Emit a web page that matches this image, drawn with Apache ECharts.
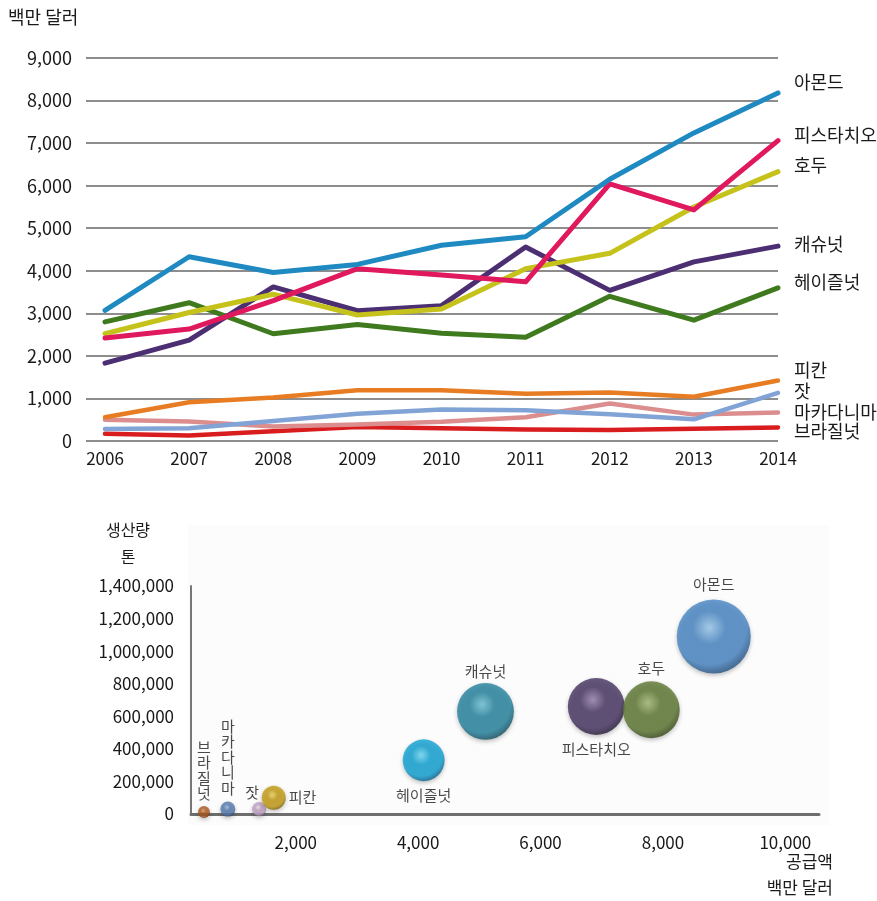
<!DOCTYPE html>
<html lang="ko">
<head>
<meta charset="utf-8">
<title>견과류 공급액과 생산량</title>
<script src="https://cdn.jsdelivr.net/npm/echarts@6/dist/echarts.min.js"></script>
<style>
  html, body { margin: 0; padding: 0; background: #ffffff; }
  #chart { width: 877px; height: 901px; }
</style>
</head>
<body>
<div id="chart"></div>
<script>
// ---- 연도별 공급액 (백만 달러) ----
const years = [2006, 2007, 2008, 2009, 2010, 2011, 2012, 2013, 2014];
const almond     = [3070, 4330, 3960, 4150, 4600, 4800, 6150, 7240, 8180];
const pistachio  = [2420, 2630, 3300, 4050, 3900, 3740, 6040, 5430, 7060];
const walnut     = [2520, 3020, 3450, 2960, 3100, 4050, 4410, 5500, 6330];
const cashew     = [1830, 2370, 3620, 3060, 3180, 4560, 3540, 4210, 4580];
const hazelnut   = [2800, 3250, 2520, 2740, 2530, 2440, 3400, 2840, 3600];
const pecan      = [560, 910, 1020, 1190, 1190, 1110, 1140, 1040, 1420];
const pineNut    = [280, 300, 470, 640, 740, 720, 630, 510, 1130];
const macadamia  = [500, 460, 340, 390, 450, 560, 880, 620, 670];
const brazilNut  = [170, 130, 230, 330, 300, 270, 260, 290, 320];
const lineNames  = ['아몬드', '피스타치오', '호두', '캐슈넛', '헤이즐넛', '피칸', '잣', '마카다니마', '브라질넛'];
const lineValues = [almond, pistachio, walnut, cashew, hazelnut, pecan, pineNut, macadamia, brazilNut];

// ---- 품목별 공급액(백만 달러) · 생산량(톤) · 버블 상대 크기 ----
const nutNames    = ['브라질넛', '마카다니마', '잣', '피칸', '헤이즐넛', '캐슈넛', '피스타치오', '호두', '아몬드'];
const supplyValue = [500, 890, 1400, 1640, 4090, 5100, 6910, 7810, 8830];
const outputTons  = [12000, 30000, 30000, 100000, 330000, 630000, 660000, 640000, 1090000];
const bubbleScale = [2.6, 4.1, 3.6, 10.5, 32, 59, 59, 59, 100];

// 꺾은선 색상과 끝 라벨 위치
const lineColors = ['#1f8ac2', '#e0195f', '#c6c21c', '#4c2f72', '#3f7a1f', '#e77c22', '#82a3d5', '#dc8e8e', '#d91d1f'];
const lineWidths = [5, 5, 5, 5, 5, 4.5, 4.5, 4.5, 4.5];
const endLabelDy = [-11, -5, -6, -2, -6, -10, -2, 0, 4];

// 구슬 색상 (밝은 부분, 기본, 어두운 테두리)
const ballColors = {
  '브라질넛':   ['#e49a5c', '#a9571d', '#5e2e0c'],
  '마카다니마': ['#9cb9e0', '#5177ad', '#2c466e'],
  '잣':         ['#efe2f0', '#bf9fc3', '#7f6585'],
  '피칸':       ['#f2d75e', '#c49a12', '#7a5e08'],
  '헤이즐넛':   ['#6fdcf6', '#0fa3d6', '#085f87'],
  '캐슈넛':     ['#6fc3d8', '#24839f', '#114c5e'],
  '피스타치오': ['#9782ad', '#463362', '#231833'],
  '호두':       ['#a3bb72', '#5d7731', '#324415'],
  '아몬드':     ['#9ccbf0', '#4786c6', '#22507f']
};

// 버블 라벨 배치
const ballLabel = {
  '브라질넛':   { position: 'top', distance: 5, vertical: true },
  '마카다니마': { position: 'top', distance: 6, vertical: true },
  '잣':         { position: 'top', distance: 1, offset: [-7, 0] },
  '피칸':       { position: 'right', distance: 3 },
  '헤이즐넛':   { position: 'bottom', distance: 5 },
  '캐슈넛':     { position: 'top', distance: 3 },
  '피스타치오': { position: 'bottom', distance: 5 },
  '호두':       { position: 'top', distance: 4 },
  '아몬드':     { position: 'top', distance: 6 }
};

const FONT = '"Noto Sans CJK KR", "Noto Sans", sans-serif';
const fmt = v => Number(v).toLocaleString('en-US');

const lineSeries = lineNames.map((name, i) => ({
  name: name,
  type: 'line',
  xAxisIndex: 0,
  yAxisIndex: 0,
  data: years.map((y, k) => [y, lineValues[i][k]]),
  showSymbol: false,
  symbol: 'none',
  z: 20 - i,
  lineStyle: { color: lineColors[i], width: lineWidths[i], cap: 'round', join: 'round' },
  itemStyle: { color: lineColors[i] },
  endLabel: {
    show: true,
    formatter: '{a}',
    distance: 16,
    offset: [0, endLabelDy[i]],
    color: '#1a1a1a',
    fontSize: 18,
    fontFamily: FONT
  },
  emphasis: { disabled: true }
}));

const bubbleData = nutNames.map((name, i) => {
  const c = ballColors[name];
  const lab = ballLabel[name];
  return {
    name: name,
    value: [supplyValue[i], outputTons[i], bubbleScale[i]],
    itemStyle: {
      color: new echarts.graphic.RadialGradient(0.44, 0.38, 0.64, [
        { offset: 0, color: c[0] },
        { offset: 0.35, color: c[1] },
        { offset: 0.78, color: c[1] },
        { offset: 1, color: c[2] }
      ]),
      shadowBlur: 4,
      shadowOffsetY: 2,
      shadowColor: 'rgba(0,0,0,0.3)'
    },
    label: {
      show: true,
      position: lab.position,
      distance: lab.distance,
      offset: lab.offset || [0, 0],
      formatter: lab.vertical ? name.split('').join('\n') : name,
      lineHeight: lab.vertical ? 15.5 : 18,
      color: '#1a1a1a',
      fontSize: 15,
      fontFamily: FONT
    }
  };
});

const chart = echarts.init(document.getElementById('chart'), null, { renderer: 'canvas' });

chart.setOption({
  animation: false,
  backgroundColor: '#ffffff',
  textStyle: { fontFamily: FONT },
  graphic: [
    { type: 'rect', z: -10, shape: { x: 188, y: 525, width: 642, height: 300 },
      style: { fill: '#fcfcfc' }, silent: true },
    { type: 'text', left: 8, top: 8,
      style: { text: '백만 달러', fontSize: 18, fontFamily: FONT, fill: '#1a1a1a' } },
    { type: 'text', x: 128, y: 530,
      style: { text: '생산량', fontSize: 16, fontFamily: FONT, fill: '#1a1a1a', align: 'center', verticalAlign: 'middle' } },
    { type: 'text', x: 128, y: 557,
      style: { text: '톤', fontSize: 16, fontFamily: FONT, fill: '#1a1a1a', align: 'center', verticalAlign: 'middle' } },
    { type: 'text', x: 833, y: 862,
      style: { text: '공급액', fontSize: 17, fontFamily: FONT, fill: '#1a1a1a', align: 'right', verticalAlign: 'middle' } },
    { type: 'text', x: 833, y: 888,
      style: { text: '백만 달러', fontSize: 17, fontFamily: FONT, fill: '#1a1a1a', align: 'right', verticalAlign: 'middle' } }
  ],
  grid: [
    { left: 86, right: 99, top: 58, bottom: 460, containLabel: false },
    { left: 191, right: 58, top: 586, bottom: 87, containLabel: false }
  ],
  xAxis: [
    {
      gridIndex: 0,
      type: 'value',
      min: 2005.774,
      max: 2014,
      axisLine: { show: false },
      axisTick: { show: false },
      splitLine: { show: false },
      axisLabel: {
        customValues: years,
        formatter: v => String(v),
        color: '#1a1a1a',
        fontSize: 17,
        margin: 9,
        fontFamily: FONT
      }
    },
    {
      gridIndex: 1,
      type: 'value',
      min: 288,
      max: 10550,
      axisLine: { show: true, onZero: false, lineStyle: { color: '#6e6e6e', width: 3 } },
      axisTick: { show: false },
      splitLine: { show: false },
      axisLabel: {
        customValues: [2000, 4000, 6000, 8000, 10000],
        formatter: fmt,
        color: '#1a1a1a',
        fontSize: 17,
        margin: 20,
        fontFamily: FONT
      }
    }
  ],
  yAxis: [
    {
      gridIndex: 0,
      type: 'value',
      min: 0,
      max: 9000,
      interval: 1000,
      axisLine: { show: false },
      axisTick: { show: false },
      splitLine: { show: true, lineStyle: { color: '#8d8d8d', width: 2 } },
      axisLabel: {
        formatter: fmt,
        color: '#1a1a1a',
        fontSize: 18,
        margin: 14,
        fontFamily: FONT
      }
    },
    {
      gridIndex: 1,
      type: 'value',
      min: 0,
      max: 1400000,
      interval: 200000,
      axisLine: { show: true, onZero: false, lineStyle: { color: '#777777', width: 2 } },
      axisTick: { show: false },
      splitLine: { show: false },
      axisLabel: {
        formatter: fmt,
        color: '#1a1a1a',
        fontSize: 17,
        margin: 17,
        fontFamily: FONT
      }
    }
  ],
  series: lineSeries.concat([
    {
      name: '생산량',
      type: 'scatter',
      xAxisIndex: 1,
      yAxisIndex: 1,
      data: bubbleData,
      symbolSize: v => 74 * Math.sqrt(v[2] / 100),
      z: 5,
      emphasis: { disabled: true }
    }
  ])
});
</script>
</body>
</html>
